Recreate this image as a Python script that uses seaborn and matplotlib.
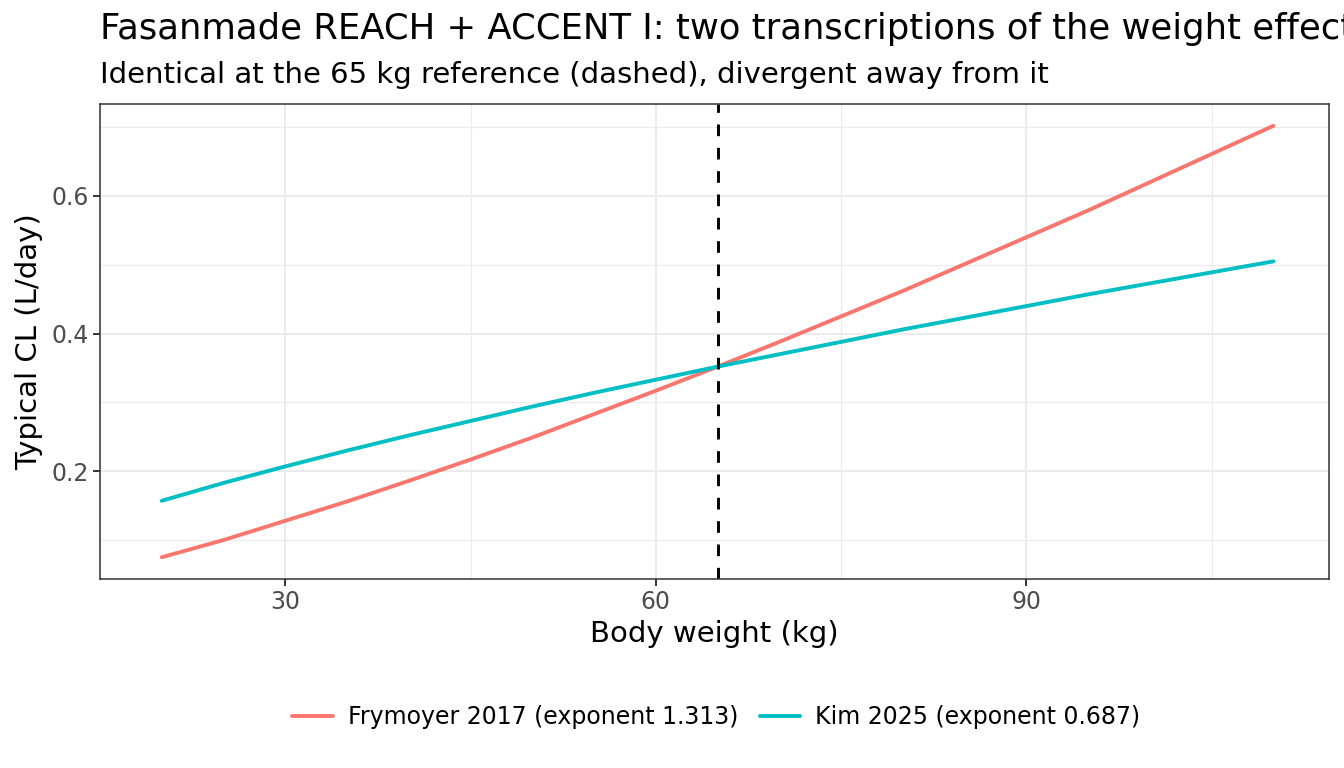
import pandas as pd
import seaborn as sns
import matplotlib.pyplot as plt

# values (typical CL in L/day at each body weight)
weight = [20, 25, 30, 35, 40, 45, 50, 55, 60, 65, 70, 75, 80, 85, 90, 95, 100, 105, 110]
cl_frymoyer = [0.075, 0.100, 0.128, 0.156, 0.186, 0.217, 0.249, 0.283, 0.317, 0.352,
               0.388, 0.425, 0.462, 0.501, 0.540, 0.579, 0.620, 0.661, 0.702]
cl_kim = [0.157, 0.183, 0.207, 0.230, 0.252, 0.273, 0.294, 0.314, 0.333, 0.352,
          0.370, 0.388, 0.406, 0.423, 0.440, 0.457, 0.473, 0.489, 0.505]
series_names = ["Frymoyer 2017 (exponent 1.313)", "Kim 2025 (exponent 0.687)"]
ref_weight = 65

df = pd.concat([
    pd.DataFrame({"weight": weight, "cl": cl_frymoyer, "model": series_names[0]}),
    pd.DataFrame({"weight": weight, "cl": cl_kim, "model": series_names[1]}),
])

sns.set_theme(style="whitegrid")
plt.rcParams["font.family"] = ["DejaVu Sans"]

fig = plt.figure(figsize=(13.44, 7.68), dpi=100)
ax = fig.add_axes([0.0744, 0.2462, 0.9144, 0.6184])

sns.lineplot(data=df, x="weight", y="cl", hue="model",
             palette=["#F8766D", "#00BFC4"], linewidth=2.8, ax=ax, legend=False)
ax.axvline(ref_weight, color="black", linestyle=(0, (4, 4)), linewidth=2.1)

ax.set_xlim(15.5, 114.5)
ax.set_ylim(0.0435, 0.7337)
ax.set_xticks([30, 60, 90])
ax.set_yticks([0.2, 0.4, 0.6])
ax.set_xticks([15, 45, 75, 105], minor=True)
ax.set_yticks([0.1, 0.3, 0.5, 0.7], minor=True)
ax.grid(which="major", color="#EBEBEB", linewidth=1.5)
ax.grid(which="minor", color="#EBEBEB", linewidth=0.8)
ax.tick_params(which="major", length=5, width=1.4, color="#333333", labelcolor="#4D4D4D",
               labelsize=17, bottom=True, left=True, pad=3)
ax.tick_params(which="minor", length=0)
for s in ax.spines.values():
    s.set_color("#333333")
    s.set_linewidth(1.1)
ax.set_facecolor("white")

ax.set_xlabel("Body weight (kg)", fontsize=21, color="black", labelpad=4)
ax.set_ylabel("Typical CL (L/day)", fontsize=21, color="black", labelpad=6)

fig.text(0.0744, 0.9486, "Fasanmade REACH + ACCENT I: two transcriptions of the weight effect",
         fontsize=25.5, ha="left", va="baseline", color="black")
fig.text(0.0744, 0.892, "Identical at the 65 kg reference (dashed), divergent away from it",
         fontsize=21, ha="left", va="baseline", color="black")

handles = [plt.Line2D([], [], color=c, linewidth=2.8) for c in ["#F8766D", "#00BFC4"]]
leg = fig.legend(handles, series_names, loc="center", bbox_to_anchor=(0.533, 0.066), ncol=2,
                 frameon=False, fontsize=17, handlelength=1.7, columnspacing=0.9,
                 handletextpad=0.65)
for t in leg.get_texts():
    t.set_color("black")

fig.savefig("out.png", dpi=100)
